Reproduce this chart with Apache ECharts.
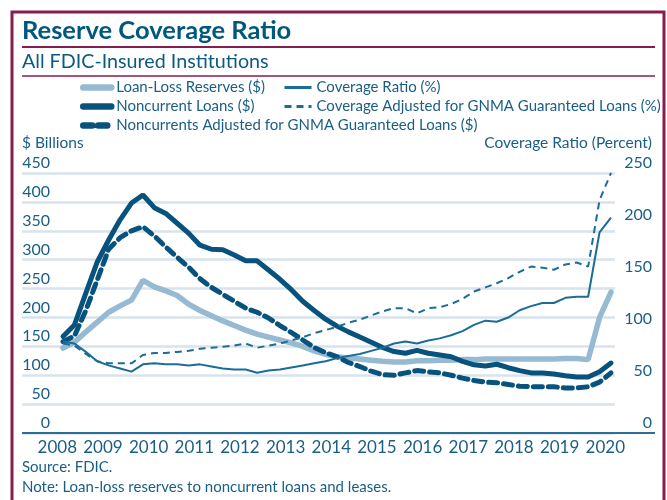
<!DOCTYPE html>
<html>
<head>
<meta charset="utf-8">
<script src="https://cdn.jsdelivr.net/npm/echarts@6/dist/echarts.min.js"></script>
<style>
html, body { margin: 0; padding: 0; background: #fff; }
#main { width: 667px; height: 500px; }
</style>
</head>
<body>
<div id="main"></div>
<script>
// quarters 2008Q2 .. 2020Q2
var quarters = [];
for (var y = 2008; y <= 2020; y++) {
    for (var q = 1; q <= 4; q++) {
        if ((y === 2008 && q === 1) || (y === 2020 && q > 2)) continue;
        quarters.push(y + 'Q' + q);
    }
}
var yearTicks = [2008, 2009, 2010, 2011, 2012, 2013, 2014, 2015, 2016, 2017, 2018, 2019, 2020];

// $ billions
var loanLossReserves = [147,157,175,192,209,220,230,264,253,246,238,223,212,203,194,186,178,171,166,161,156,150,142,136,132,130,128,126,124,123,123,125,125,126,126,127,127,128,128,128,128,128,128,128,129,129,127,200,244];
var noncurrentLoans = [167,187,242,296,334,369,398,412,390,380,363,346,325,318,317,308,298,298,282,266,248,228,212,197,185,175,166,157,148,141,138,143,138,135,132,124,118,116,119,113,108,104,104,102,99,97,97,106,121];
var noncurrentsAdj = [158,168,212,265,318,338,350,357,341,322,304,287,267,252,240,228,216,209,199,186,174,161,148,139,132,122,115,107,101,100,104,108,106,104,100,95,91,88,87,84,81,80,80,80,78,78,80,88,104];
// percent
var coverageRatio = [88,86,78,69,65,62,59,66,67,66,66,65,66,64,62,61,61,58,60,61,63,65,67,69,72,74,76,79,82,86,88,86,89,91,94,98,104,108,107,111,118,122,125,125,130,131,131,193,207];
var coverageAdj = [86,84,76,69,67,67,67,75,77,77,78,79,81,82,83,84,86,82,84,86,89,92,96,99,102,106,109,113,117,120,120,115,120,121,124,129,136,140,144,149,155,160,159,157,162,164,160,224,250];

var fontFam = "Lato, sans-serif";
var txt = '#1a5e86';
var maroon = '#861c50';

function qx(label) {
    return parseInt(label.slice(0, 4), 10) + (parseInt(label.slice(5), 10) - 1) / 4;
}
function pairs(vals) {
    return vals.map(function (v, i) { return [qx(quarters[i]), v]; });
}

var chart = echarts.init(document.getElementById('main'));

var legendText = { color: txt, fontSize: 15, lineHeight: 19, fontFamily: fontFam };

var option = {
    animation: false,
    textStyle: { fontFamily: fontFam },
    grid: { left: 22, right: 52, top: 173, bottom: 67 },
    legend: [{
        orient: 'vertical', left: 80, top: 78, padding: 0, itemWidth: 28, itemHeight: 10, itemGap: 0, itemTextGap: 5,
        itemStyle: { opacity: 0 }, lineStyle: { width: 6.5 },
        textStyle: legendText,
        data: ['Loan-Loss Reserves ($)', 'Noncurrent Loans ($)', 'Noncurrents Adjusted for GNMA Guaranteed Loans ($)']
    }, {
        orient: 'vertical', left: 283, top: 78, padding: 0, itemWidth: 27, itemHeight: 10, itemGap: 0, itemTextGap: 6,
        itemStyle: { opacity: 0 }, lineStyle: { width: 3 },
        textStyle: legendText,
        data: ['Coverage Ratio (%)', 'Coverage Adjusted for GNMA Guaranteed Loans (%)']
    }],
    xAxis: {
        type: 'value', min: 2007.352, max: 2020.338,
        axisLine: { show: false }, axisTick: { show: false }, splitLine: { show: false },
        axisLabel: {
            customValues: yearTicks.map(function (y) { return y + 0.125; }),
            formatter: function (v) { return String(Math.floor(v)); },
            color: txt, fontSize: 17, margin: 6
        }
    },
    yAxis: [{
        type: 'value', min: 0, max: 450, interval: 50, position: 'left',
        axisLine: { show: false }, axisTick: { show: false },
        splitLine: { lineStyle: { color: '#d8e3ed', width: 2.5 } },
        axisLabel: { inside: true, align: 'right', margin: 28, verticalAlign: 'bottom', padding: [0, 0, 2, 0], color: txt, fontSize: 16 }
    }, {
        type: 'value', min: 0, max: 250, interval: 50, position: 'right',
        axisLine: { show: false }, axisTick: { show: false }, splitLine: { show: false },
        axisLabel: { align: 'right', margin: 37, verticalAlign: 'bottom', padding: [0, 0, 2, 0], color: txt, fontSize: 16 }
    }],
    series: [{
        name: 'Loan-Loss Reserves ($)', type: 'line', yAxisIndex: 0, symbol: 'none',
        lineStyle: { color: '#97bad3', width: 5.5, cap: 'round' }, itemStyle: { color: '#97bad3' },
        data: pairs(loanLossReserves)
    }, {
        name: 'Noncurrent Loans ($)', type: 'line', yAxisIndex: 0, symbol: 'none',
        lineStyle: { color: '#07537d', width: 5, cap: 'round' }, itemStyle: { color: '#07537d' },
        data: pairs(noncurrentLoans)
    }, {
        name: 'Noncurrents Adjusted for GNMA Guaranteed Loans ($)', type: 'line', yAxisIndex: 0, symbol: 'none',
        lineStyle: { color: '#07537d', width: 5, type: [9, 6], cap: 'round' }, itemStyle: { color: '#07537d' },
        data: pairs(noncurrentsAdj)
    }, {
        name: 'Coverage Ratio (%)', type: 'line', yAxisIndex: 1, symbol: 'none',
        lineStyle: { color: '#1b6d97', width: 2 }, itemStyle: { color: '#1b6d97' },
        data: pairs(coverageRatio)
    }, {
        name: 'Coverage Adjusted for GNMA Guaranteed Loans (%)', type: 'line', yAxisIndex: 1, symbol: 'none',
        lineStyle: { color: '#1b6d97', width: 2, type: [7, 5] }, itemStyle: { color: '#1b6d97' },
        data: pairs(coverageAdj)
    }],
    graphic: [
        { type: 'rect', z: 100, shape: { x: 12, y: 12, width: 652, height: 500 }, style: { fill: null, stroke: maroon, lineWidth: 3 } },
        { type: 'text', z: 100, left: 22, top: 18, style: { text: 'Reserve Coverage Ratio', font: 'bold 25.5px ' + fontFam, fill: '#00587f' } },
        { type: 'line', z: 100, shape: { x1: 22, y1: 47, x2: 655, y2: 47 }, style: { stroke: maroon, lineWidth: 2 } },
        { type: 'text', z: 100, left: 22, top: 52, style: { text: 'All FDIC-Insured Institutions', font: '19.7px ' + fontFam, fill: '#0b5a80' } },
        { type: 'line', z: 100, shape: { x1: 22, y1: 76, x2: 655, y2: 76 }, style: { stroke: maroon, lineWidth: 1.5 } },
        { type: 'text', z: 100, left: 22, top: 135, style: { text: '$ Billions', font: '15.5px ' + fontFam, fill: txt } },
        { type: 'text', z: 100, right: 15, top: 135, style: { text: 'Coverage Ratio (Percent)', font: '15.5px ' + fontFam, fill: txt } },
        { type: 'line', z: 100, shape: { x1: 22, y1: 433, x2: 655, y2: 433 }, style: { stroke: '#2b6f95', lineWidth: 2 } },
        { type: 'text', z: 100, left: 22, top: 460, style: { text: 'Source: FDIC.', font: '15px ' + fontFam, fill: txt } },
        { type: 'text', z: 100, left: 22, top: 480, style: { text: 'Note: Loan-loss reserves to noncurrent loans and leases.', font: '15px ' + fontFam, fill: txt } }
    ]
};

chart.setOption(option);
</script>
</body>
</html>
